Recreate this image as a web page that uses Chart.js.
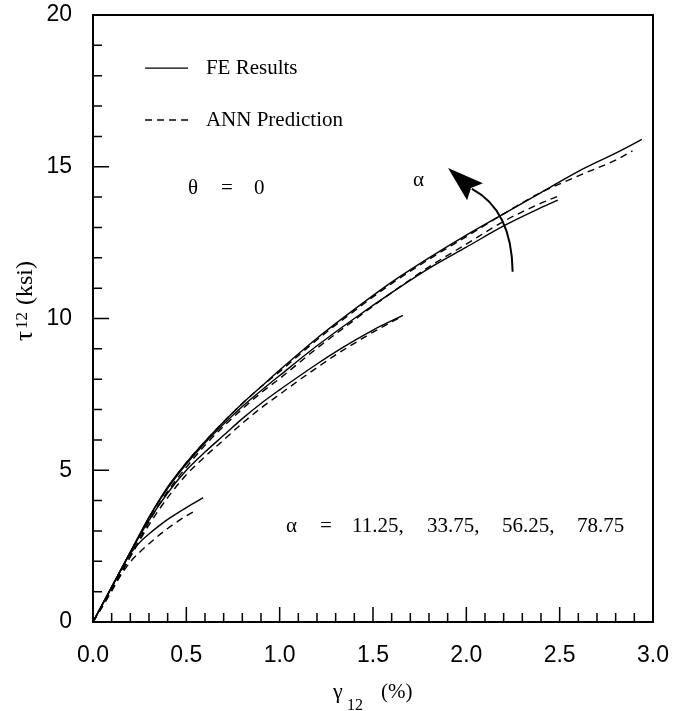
<!DOCTYPE html>
<html>
<head>
<meta charset="utf-8">
<script src="https://cdn.jsdelivr.net/npm/chart.js@4.4.0/dist/chart.umd.min.js"></script>
<style>
  html, body { margin: 0; padding: 0; background: #fff; }
</style>
</head>
<body>
<canvas id="tauChart" width="683" height="711"></canvas>
<script>
// axis ticks
const xTickVals = [0, 0.5, 1.0, 1.5, 2.0, 2.5, 3.0];
const yTickVals = [0, 5, 10, 15, 20];

// alpha = 11.25
const fe1X = [0, 0.05, 0.1, 0.15, 0.2, 0.25, 0.3, 0.35, 0.4, 0.45, 0.5, 0.55, 0.59];
const fe1Y = [0, 0.58, 1.15, 1.72, 2.25, 2.62, 2.9, 3.15, 3.38, 3.58, 3.77, 3.95, 4.1];
const ann1X = [0, 0.05, 0.1, 0.15, 0.2, 0.25, 0.3, 0.35, 0.4, 0.45, 0.5, 0.555];
const ann1Y = [0, 0.5, 1.02, 1.55, 1.98, 2.3, 2.58, 2.84, 3.08, 3.3, 3.5, 3.69];

// alpha = 33.75
const fe2X = [0, 0.1, 0.2, 0.3, 0.4, 0.5, 0.6, 0.7, 0.8, 0.9, 1.0, 1.1, 1.2, 1.3, 1.4, 1.5, 1.66];
const fe2Y = [0, 1.15, 2.3, 3.35, 4.25, 5.0, 5.6, 6.15, 6.7, 7.2, 7.65, 8.08, 8.5, 8.9, 9.27, 9.62, 10.1];
const ann2X = [0, 0.1, 0.2, 0.3, 0.4, 0.5, 0.6, 0.7, 0.8, 0.9, 1.0, 1.1, 1.2, 1.3, 1.4, 1.5, 1.65];
const ann2Y = [0, 1.05, 2.15, 3.2, 4.1, 4.85, 5.45, 6.0, 6.55, 7.05, 7.5, 7.95, 8.38, 8.8, 9.18, 9.55, 10.05];

// alpha = 56.25
const fe3X = [0, 0.1, 0.2, 0.3, 0.4, 0.5, 0.6, 0.7, 0.8, 0.9, 1.0, 1.2, 1.4, 1.6, 1.8, 2.0, 2.2, 2.4, 2.49];
const fe3Y = [0, 1.15, 2.3, 3.45, 4.4, 5.2, 5.9, 6.52, 7.1, 7.62, 8.12, 9.1, 10.0, 10.85, 11.65, 12.35, 13.05, 13.65, 13.9];
const ann3X = [0, 0.1, 0.2, 0.3, 0.4, 0.5, 0.6, 0.7, 0.8, 0.9, 1.0, 1.2, 1.4, 1.6, 1.8, 2.0, 2.2, 2.4, 2.5];
const ann3Y = [0, 1.05, 2.15, 3.3, 4.3, 5.1, 5.82, 6.45, 7.02, 7.55, 8.02, 9.02, 9.95, 10.85, 11.7, 12.45, 13.2, 13.8, 14.05];

// alpha = 78.75
const fe4X = [0, 0.1, 0.2, 0.3, 0.4, 0.5, 0.6, 0.7, 0.8, 0.9, 1.0, 1.2, 1.4, 1.6, 1.8, 2.0, 2.2, 2.4, 2.6, 2.8, 2.94];
const fe4Y = [0, 1.15, 2.3, 3.45, 4.45, 5.25, 5.95, 6.6, 7.2, 7.75, 8.3, 9.35, 10.3, 11.2, 12.0, 12.75, 13.45, 14.15, 14.85, 15.45, 15.9];
const ann4X = [0, 0.1, 0.2, 0.3, 0.4, 0.5, 0.6, 0.7, 0.8, 0.9, 1.0, 1.2, 1.4, 1.6, 1.8, 2.0, 2.2, 2.4, 2.6, 2.8, 2.89];
const ann4Y = [0, 1.1, 2.25, 3.4, 4.42, 5.25, 5.95, 6.6, 7.2, 7.75, 8.25, 9.3, 10.25, 11.15, 11.95, 12.7, 13.45, 14.15, 14.7, 15.22, 15.52];

const serif = '"Liberation Serif", "Times New Roman", serif';
const sans = '"Liberation Sans", Arial, sans-serif';

function pts(xs, ys) {
    return xs.map((x, i) => ({ x: x, y: ys[i] }));
}

function curve(xs, ys, dashed) {
    return {
        data: pts(xs, ys),
        borderColor: '#000',
        borderWidth: 1.4,
        borderDash: dashed ? [7, 5] : [],
        pointRadius: 0,
        fill: false,
        cubicInterpolationMode: 'monotone'
    };
}

// text notes placed in data units
const notes = [
    { text: 'FE Results', x: 0.605, y: 18.25 },
    { text: 'ANN Prediction', x: 0.605, y: 16.54 },
    { text: '\u03b8', x: 0.509, y: 14.3 },
    { text: '=', x: 0.686, y: 14.3 },
    { text: '0', x: 0.862, y: 14.3 },
    { text: '\u03b1', x: 1.714, y: 14.56 },
    { text: '\u03b1', x: 1.034, y: 3.16 },
    { text: '=', x: 1.216, y: 3.16 },
    { text: '11.25,', x: 1.387, y: 3.16 },
    { text: '33.75,', x: 1.789, y: 3.16 },
    { text: '56.25,', x: 2.191, y: 3.16 },
    { text: '78.75', x: 2.593, y: 3.16 }
];

const decorPlugin = {
    id: 'decor',
    afterDraw(chart) {
        const ctx = chart.ctx;
        const xs = chart.scales.x;
        const ys = chart.scales.y;
        const a = chart.chartArea;
        const X = v => xs.getPixelForValue(v);
        const Y = v => ys.getPixelForValue(v);
        ctx.save();
        ctx.strokeStyle = '#000';
        ctx.fillStyle = '#000';

        // frame
        ctx.lineWidth = 2;
        ctx.strokeRect(a.left, a.top, a.right - a.left, a.bottom - a.top);

        // inward ticks
        ctx.lineWidth = 1.5;
        ctx.beginPath();
        for (let i = 1; i < 30; i++) {
            const px = X(i / 10);
            const len = i % 5 === 0 ? 15 : 9;
            ctx.moveTo(px, a.bottom);
            ctx.lineTo(px, a.bottom - len);
        }
        for (let i = 1; i < 20; i++) {
            const py = Y(i);
            const len = i % 5 === 0 ? 16 : 9;
            ctx.moveTo(a.left, py);
            ctx.lineTo(a.left + len, py);
        }
        ctx.stroke();

        // legend samples
        ctx.lineWidth = 1.4;
        ctx.beginPath();
        ctx.moveTo(X(0.279), Y(18.25));
        ctx.lineTo(X(0.509), Y(18.25));
        ctx.stroke();
        ctx.setLineDash([7, 5]);
        ctx.beginPath();
        ctx.moveTo(X(0.279), Y(16.54));
        ctx.lineTo(X(0.509), Y(16.54));
        ctx.stroke();
        ctx.setLineDash([]);

        // notes
        ctx.font = '21px ' + serif;
        ctx.textBaseline = 'middle';
        ctx.textAlign = 'left';
        notes.forEach(n => ctx.fillText(n.text, X(n.x), Y(n.y)));

        // curved arrow for alpha
        ctx.lineWidth = 2;
        ctx.beginPath();
        ctx.moveTo(X(2.248), Y(11.54));
        ctx.quadraticCurveTo(X(2.244), Y(13.57), X(2.03), Y(14.27));
        ctx.stroke();
        ctx.beginPath();
        ctx.moveTo(X(1.902), Y(14.96));
        ctx.lineTo(X(2.089), Y(14.46));
        ctx.lineTo(X(2.025), Y(14.3));
        ctx.lineTo(X(2.004), Y(13.9));
        ctx.closePath();
        ctx.fill();

        // x title: gamma_12 (%)
        ctx.textBaseline = 'alphabetic';
        ctx.font = '22px ' + serif;
        ctx.fillText('\u03b3', 333, 698);
        ctx.font = '16px ' + serif;
        ctx.fillText('12', 347, 710);
        ctx.font = '21px ' + serif;
        ctx.fillText('(%)', 381, 698);

        // y title: tau12 (ksi), rotated
        ctx.translate(32, 341);
        ctx.rotate(-Math.PI / 2);
        ctx.font = '25px ' + serif;
        ctx.fillText('\u03c4', 0, 0);
        ctx.font = '17px ' + serif;
        ctx.fillText('12', 12, -5);
        ctx.font = '24px ' + serif;
        ctx.fillText('(ksi)', 36, 0);
        ctx.restore();
    }
};

const chart = new Chart(document.getElementById('tauChart'), {
    type: 'line',
    data: {
        datasets: [
            curve(fe1X, fe1Y, false), curve(ann1X, ann1Y, true),
            curve(fe2X, fe2Y, false), curve(ann2X, ann2Y, true),
            curve(fe3X, fe3Y, false), curve(ann3X, ann3Y, true),
            curve(fe4X, fe4Y, false), curve(ann4X, ann4Y, true)
        ]
    },
    options: {
        responsive: false,
        animation: false,
        devicePixelRatio: 1,
        layout: { padding: { top: 15, right: 30, left: 0, bottom: 0 } },
        plugins: { legend: { display: false }, tooltip: { enabled: false } },
        scales: {
            x: {
                type: 'linear', min: 0, max: 3,
                grid: { display: false, drawTicks: false },
                border: { display: false },
                afterBuildTicks: s => { s.ticks = xTickVals.map(v => ({ value: v })); },
                afterFit: s => {
                    s.height = 89;
                    s.paddingLeft = 0;
                    s.paddingRight = 0;
                },
                ticks: {
                    padding: 20, color: '#000', maxRotation: 0, autoSkip: false,
                    font: { family: sans, size: 23 },
                    callback: v => v.toFixed(1)
                }
            },
            y: {
                type: 'linear', min: 0, max: 20,
                grid: { display: false, drawTicks: false },
                border: { display: false },
                afterBuildTicks: s => { s.ticks = yTickVals.map(v => ({ value: v })); },
                afterFit: s => {
                    s.width = 93;
                    s.paddingTop = 0;
                    s.paddingBottom = 0;
                },
                ticks: {
                    padding: 21, color: '#000', autoSkip: false,
                    font: { family: sans, size: 23 }
                }
            }
        }
    },
    plugins: [decorPlugin]
});
</script>
</body>
</html>
